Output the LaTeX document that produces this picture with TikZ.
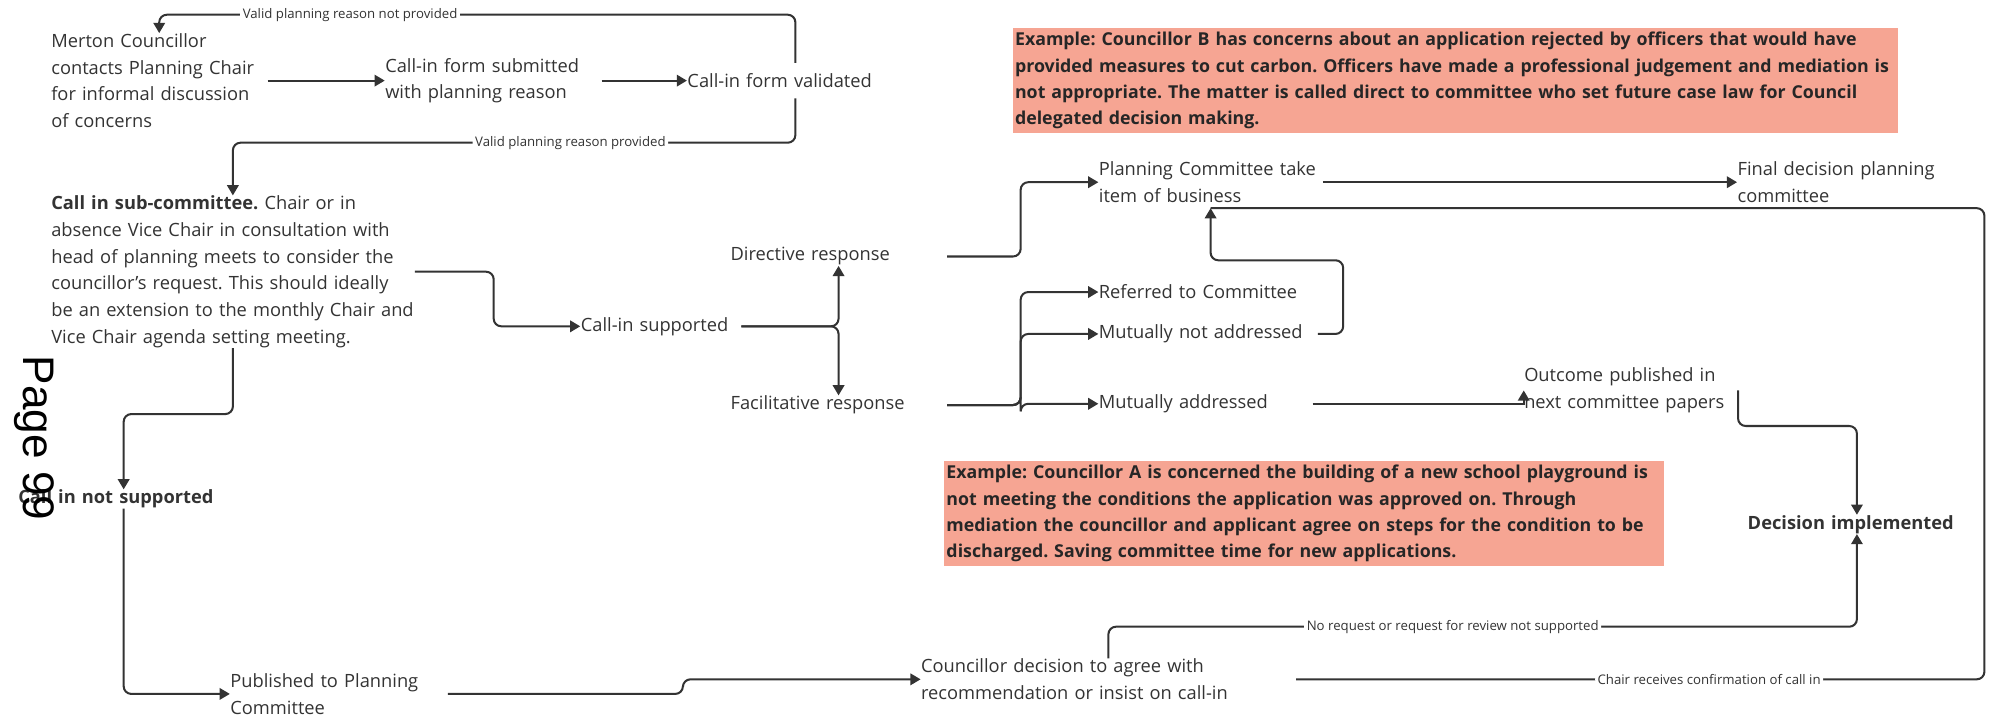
\documentclass[tikz,border=0pt]{standalone}
\usepackage{fontspec}
\setmainfont{Open Sans}
\newfontfamily\pagefont{Liberation Sans}
\usetikzlibrary{arrows.meta}
\definecolor{ink}{HTML}{333333}
\definecolor{salmon}{RGB}{246,165,147}

\begin{document}
\frenchspacing\hyphenpenalty=10000\exhyphenpenalty=10000
\begin{tikzpicture}[x=0.5pt, y=-0.5pt,
    txt/.style={anchor=west, align=left, inner sep=0pt, text=ink, font=\fontsize{7.2}{10.5}\selectfont},
    bld/.style={txt, font=\fontsize{7.2}{10.5}\selectfont\bfseries},
    lbl/.style={fill=white, inner sep=1pt, text=ink, font=\fontsize{5.2}{6}\selectfont},
    note/.style={anchor=north west, fill=salmon, align=left, inner xsep=1pt, inner ysep=0pt,
        minimum height=41pt, text=black!85, font=\fontsize{7.0}{10.35}\selectfont\bfseries},
    ln/.style={draw=ink, line width=0.8pt, rounded corners=3pt},
    arr/.style={ln, -{Triangle[length=4pt,width=4.5pt]}}]
    \useasboundingbox (0,0) rectangle (1568,565);

    \node[txt, text width=85pt] (merton) at (40,63.5) {Merton Councillor\\contacts Planning Chair\\for informal discussion\\of concerns};
    \node[txt, text width=85pt] (submitted) at (303,63.5) {Call-in form submitted\\with planning reason};
    \node[txt, text width=85pt, minimum height=13.5pt] (validated) at (541,63.5) {Call-in form validated};
    \node[txt, text width=143pt] (subcomm) at (40,214) {\textbf{Call in sub-committee.} Chair or in\\absence Vice Chair in consultation with\\head of planning meets to consider the\\councillor's request. This should ideally\\be an extension to the monthly Chair and\\Vice Chair agenda setting meeting.};
    \node[txt, text width=63pt] (supported) at (457,257) {Call-in supported};
    \node[bld, text width=83pt] (notsupp) at (14,393) {Call in not supported};
    \node[txt, text width=85.5pt] (published) at (181,546.5) {Published to Planning\\Committee};
    \node[txt, text width=147.5pt] (decision) at (725,535) {Councillor decision to agree with\\recommendation or insist on call-in};
    \node[txt, text width=85pt] (directive) at (575,202) {Directive response};
    \node[txt, text width=85pt] (facilitative) at (575,319) {Facilitative response};
    \node[txt, text width=88pt, inner ysep=2pt] (takeitem) at (865,143.5) {Planning Committee take\\item of business};
    \node[txt, text width=85pt] (final) at (1368,143.5) {Final decision planning\\committee};
    \node[txt, text width=85pt] (referred) at (865,230) {Referred to Committee};
    \node[txt, text width=86pt] (notaddr) at (865,263) {Mutually not addressed};
    \node[txt, text width=84pt] (addressed) at (865,318) {Mutually addressed};
    \node[txt, text width=84pt] (outcome) at (1200,307.5) {Outcome published in\\next committee papers};
    \node[bld, text width=86pt] (implemented) at (1376,413) {Decision implemented};

    \node[note, text width=346.5pt] (exB) at (797,22) {Example: Councillor B has concerns about an application rejected by officers that would have\\provided measures to cut carbon. Officers have made a professional judgement and mediation is\\not appropriate. The matter is called direct to committee who set future case law for Council\\delegated decision making.};
    \node[note, text width=281.5pt] (exA) at (743,363) {Example: Councillor A is concerned the building of a new school playground is\\not meeting the conditions the application was approved on. Through\\mediation the councillor and applicant agree on steps for the condition to be\\discharged. Saving committee time for new applications.};

    \node[rotate=-90, inner sep=0pt, font=\pagefont\fontsize{17.4}{20}\selectfont] (pg) at (27,345) {Page 99};

    \draw[arr] (merton.east) -- (submitted.west);
    \draw[arr] (submitted.east) -- (validated.west);
    \draw[arr] (validated.north) -- ++(0,-38) -| node[lbl, pos=0.35] {Valid planning reason not provided} (merton.north);
    \draw[arr] (validated.south) -- ++(0,35) -| node[lbl, pos=0.2] {Valid planning reason provided} (subcomm.north);
    \draw[arr] (subcomm.east) -- ++(62,0) |- (supported.west);
    \draw[arr] (subcomm.south) -- ++(0,52) -| (notsupp.north);
    \draw[arr] (notsupp.south) |- (published.west);
    \draw[arr] (published.east) -- ++(185,0) |- (decision.west);
    \draw[arr] (supported.east) -| (directive.south);
    \draw[arr] (supported.east) -| (facilitative.north);
    \draw[arr] (directive.east) -- ++(58,0) |- (takeitem.west);
    \draw[arr] (takeitem.east) -- (final.west);
    \draw[arr] (facilitative.east) -- ++(58,0) |- (referred.west);
    \draw[arr] (facilitative.east) -- ++(58,0) |- (notaddr.west);
    \draw[arr] (facilitative.east) -- ++(58,0) |- (addressed.west);
    \draw[arr] (notaddr.east) -- ++(20,0) -- ++(0,-58) -| (takeitem.south);
    \draw[arr, rounded corners=0pt] (addressed.east) -| (outcome.west);
    \draw[arr] (outcome.east) -- ++(0,28) -| (implemented.north);
    \draw[arr] (decision.north) -- ++(0,-25) -| node[lbl, pos=0.23] {No request or request for review not supported} (implemented.south);
    \draw[ln] (decision.east) -- node[lbl, pos=0.6] {Chair receives confirmation of call in} ++(542,0) |- (takeitem.south);
\end{tikzpicture}
\end{document}
